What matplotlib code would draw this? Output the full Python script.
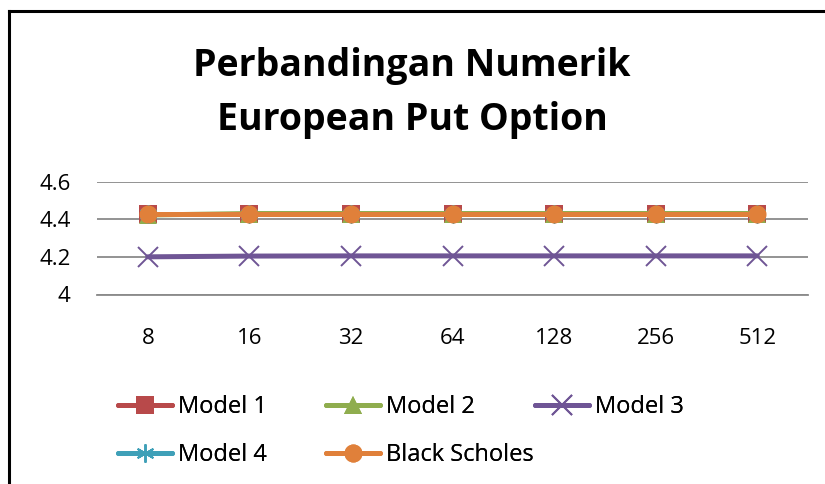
import matplotlib
matplotlib.use("Agg")
import matplotlib.pyplot as plt
from matplotlib.lines import Line2D

# data
categories = ["8", "16", "32", "64", "128", "256", "512"]
model_1 = [4.43, 4.43, 4.43, 4.43, 4.43, 4.43, 4.43]
model_2 = [4.422, 4.43, 4.43, 4.43, 4.43, 4.43, 4.43]
model_3 = [4.200, 4.204, 4.205, 4.205, 4.205, 4.205, 4.205]
model_4 = [4.43, 4.43, 4.43, 4.43, 4.43, 4.43, 4.43]
black_scholes = [4.43, 4.43, 4.43, 4.43, 4.43, 4.43, 4.43]
y_ticks = [4.0, 4.2, 4.4, 4.6]
y_tick_labels = ["4", "4.2", "4.4", "4.6"]

FONT = "Open Sans"
W, H = 825, 484

plt.rcParams["font.family"] = [FONT, "DejaVu Sans"]

fig = plt.figure(figsize=(W / 100, H / 100), dpi=100)
ax = fig.add_axes([97 / W, 1 - 294.5 / H, (808 - 97) / W, (294.5 - 181.5) / H])

x = list(range(len(categories)))
series = [
    ("Model 1", model_1, "#B8494A", "s", 13, None),
    ("Model 2", model_2, "#8FAD4E", "^", 13, None),
    ("Model 3", model_3, "#6F5595", "x", 14, 1.4),
    ("Model 4", model_4, "#3FA0B8", "*", 12, None),
    ("Black Scholes", black_scholes, "#E0803A", "o", 13, None),
]

handles = {}
for name, vals, color, marker, ms, mew in series:
    kw = dict(color=color, lw=3.6, marker=marker, markersize=ms, solid_capstyle="round")
    if marker == "x":
        kw.update(markeredgewidth=mew)
    else:
        kw.update(markeredgewidth=0)
    if marker == "*":
        # asterisk-like marker as drawn by the spreadsheet
        kw.update(marker=(6, 2, 0), markeredgewidth=1.3, markersize=13)
    line, = ax.plot(x, vals, zorder=3, clip_on=False, **kw)
    handles[name] = line

ax.set_xlim(-0.5, len(categories) - 0.5)
ax.set_ylim(4.0, 4.6)
ax.set_yticks(y_ticks)
ax.set_yticklabels(y_tick_labels)
ax.set_xticks(x)
ax.set_xticklabels(categories)
ax.tick_params(axis="both", length=0, labelsize=16, colors="black")
ax.tick_params(axis="x", pad=24)
ax.tick_params(axis="y", pad=19)
ax.grid(axis="y", color="#8a8a8a", lw=1.3)
ax.set_axisbelow(True)
for side in ("top", "right", "left"):
    ax.spines[side].set_visible(False)
ax.spines["bottom"].set_color("#8a8a8a")
ax.spines["bottom"].set_linewidth(1.3)

fig.text(412 / W, 1 - 93 / H, "Perbandingan Numerik\nEuropean Put Option",
         ha="center", va="center", fontsize=27, fontweight="bold", linespacing=1.55)

# legend, three fixed-width columns like the spreadsheet layout
columns = [["Model 1", "Model 4"], ["Model 2", "Black Scholes"], ["Model 3"]]
col_x = [118, 326, 535]
for names, cx in zip(columns, col_x):
    leg = fig.legend([handles[n] for n in names], names, loc="upper left",
                     bbox_to_anchor=(cx / W, 1 - 395 / H), frameon=False,
                     fontsize=17, handlelength=2.3, handletextpad=0.25,
                     borderpad=0, borderaxespad=0, labelspacing=1.02)
    fig.add_artist(leg)

# chart border (cut off on the right and bottom)
fig.add_artist(Line2D([9 / W, 9 / W], [0, 1 - 11 / H], color="black", lw=2.2))
fig.add_artist(Line2D([9 / W, 1], [1 - 11 / H, 1 - 11 / H], color="black", lw=2.2))

fig.savefig("out.png", dpi=100, facecolor="white")
